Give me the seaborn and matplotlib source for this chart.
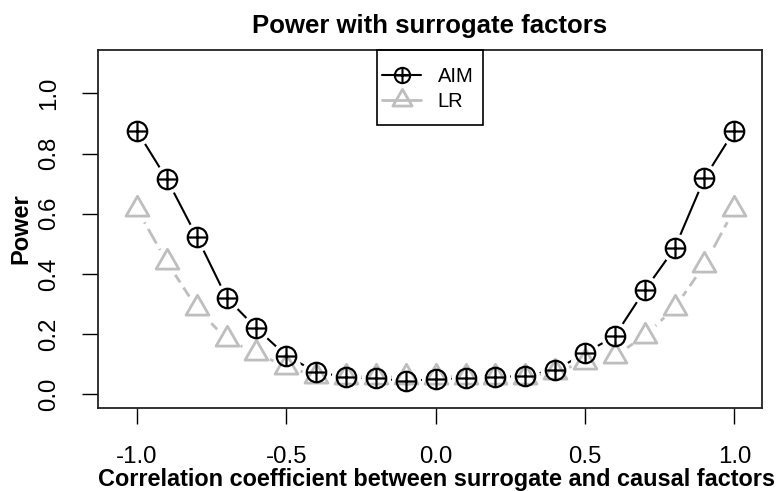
import numpy as np
import pandas as pd
import matplotlib
matplotlib.use("Agg")
import matplotlib.pyplot as plt
from matplotlib.path import Path
from matplotlib.lines import Line2D
from matplotlib.patches import Rectangle
import seaborn as sns

# ---- data ----
corr = [-1.0, -0.9, -0.8, -0.7, -0.6, -0.5, -0.4, -0.3, -0.2, -0.1, 0.0,
        0.1, 0.2, 0.3, 0.4, 0.5, 0.6, 0.7, 0.8, 0.9, 1.0]
aim_power = [0.875, 0.715, 0.524, 0.321, 0.219, 0.128, 0.074, 0.057, 0.054, 0.044, 0.051,
             0.054, 0.057, 0.061, 0.081, 0.136, 0.194, 0.346, 0.485, 0.718, 0.876]
lr_power = [0.615, 0.440, 0.287, 0.183, 0.136, 0.092, 0.060, 0.058, 0.058, 0.057, 0.058,
            0.059, 0.058, 0.058, 0.075, 0.106, 0.127, 0.194, 0.287, 0.430, 0.615]
series_names = ["AIM", "LR"]
x_ticks = [-1.0, -0.5, 0.0, 0.5, 1.0]
x_tick_labels = ["-1.0", "-0.5", "0.0", "0.5", "1.0"]
y_ticks = [0.0, 0.2, 0.4, 0.6, 0.8, 1.0]
y_tick_labels = ["0.0", "0.2", "0.4", "0.6", "0.8", "1.0"]

sns.set_style("white")
plt.rcParams["font.family"] = ["Liberation Sans", "DejaVu Sans"]
plt.rcParams["axes.unicode_minus"] = False
plt.rcParams["text.color"] = "black"
plt.rcParams["axes.labelcolor"] = "black"
plt.rcParams["xtick.color"] = "black"
plt.rcParams["ytick.color"] = "black"

fig = plt.figure(figsize=(7.77, 4.91), dpi=100)
ax = fig.add_axes([98 / 777, 1 - 408 / 491, (762 - 98) / 777, (408 - 50) / 491])

# markers
circ_plus = Path.make_compound_path(
    Path.unit_circle(),
    Path([[-1, 0], [1, 0]], [Path.MOVETO, Path.LINETO]),
    Path([[0, -1], [0, 1]], [Path.MOVETO, Path.LINETO]),
)
s3 = np.sqrt(3)
tri = Path([[-1, -1 / s3], [1, -1 / s3], [0, 2 / s3], [-1, -1 / s3]],
           [Path.MOVETO, Path.LINETO, Path.LINETO, Path.CLOSEPOLY])

black = "black"
gray = "#BEBEBE"
df = pd.DataFrame({"corr": corr, "AIM": aim_power, "LR": lr_power})

# lines (with gaps around points, like R type="b")
sns.lineplot(data=df, x="corr", y="AIM", ax=ax, color=black, lw=1.5,
             sort=False, errorbar=None, zorder=2)
sns.lineplot(data=df, x="corr", y="AIM", ax=ax, color="white", lw=0,
             marker="o", markersize=21, markeredgewidth=0,
             markerfacecolor="white", sort=False, errorbar=None, zorder=3)
sns.lineplot(data=df, x="corr", y="LR", ax=ax, color=gray, lw=2.0,
             linestyle=(0, (6, 2.2)), sort=False, errorbar=None, zorder=4)
sns.lineplot(data=df, x="corr", y="LR", ax=ax, color="white", lw=0,
             marker="o", markersize=21, markeredgewidth=0,
             markerfacecolor="white", sort=False, errorbar=None, zorder=5)
# point markers
sns.lineplot(data=df, x="corr", y="LR", ax=ax, lw=0, marker=tri, markersize=19,
             markerfacecolor="none", markeredgecolor=gray, markeredgewidth=2.0,
             sort=False, errorbar=None, zorder=6)
sns.lineplot(data=df, x="corr", y="AIM", ax=ax, lw=0, marker=circ_plus, markersize=14,
             markerfacecolor="none", markeredgecolor=black, markeredgewidth=1.6,
             sort=False, errorbar=None, zorder=7)

ax.set_xlim(-1.1306, 1.0927)
ax.set_ylim(-0.0455, 1.1439)
ax.set_xticks(x_ticks)
ax.set_xticklabels(x_tick_labels)
ax.set_yticks(y_ticks)
ax.set_yticklabels(y_tick_labels, rotation=90, va="center")
ax.tick_params(axis="both", which="major", direction="out", length=11.5, width=1.0,
               color="black", labelsize=17.3, labelcolor="black", left=True, bottom=True)
ax.tick_params(axis="x", pad=16)
ax.tick_params(axis="y", pad=16)
for sp in ax.spines.values():
    sp.set_visible(True)
    sp.set_color("#222222")
    sp.set_linewidth(1.3)
ax.grid(False)

ax.set_title("Power with surrogate factors", fontsize=18.5, fontweight="bold", pad=12)
ax.set_xlabel("Correlation coefficient between surrogate and causal factors",
              fontsize=16.9, fontweight="bold")
ax.xaxis.set_label_coords((437 - 98) / 664, (408 - 468) / 358)
ax.set_ylabel("Power", fontsize=17, fontweight="bold", labelpad=4)

handles = [
    Line2D([], [], color=black, lw=1.5, marker=circ_plus, markersize=11,
           markerfacecolor="none", markeredgecolor=black, markeredgewidth=1.5),
    Line2D([], [], color=gray, lw=2.0, marker=tri, markersize=16,
           markerfacecolor="none", markeredgecolor=gray, markeredgewidth=2.0),
]
leg = ax.legend(handles, series_names, loc="upper center",
                bbox_to_anchor=((428 - 98) / 664, (408 - 67) / 358),
                borderaxespad=0, fontsize=14.5, handlelength=1.9, handletextpad=0.85,
                labelspacing=0.3, borderpad=0.0, frameon=False)
# legend box (R-style: tall, tight left/right padding)
fig.add_artist(Rectangle((377 / 777, 1 - 125 / 491), 106 / 777, 75 / 491,
                         transform=fig.transFigure, fill=False, ec="black", lw=1.2,
                         zorder=10))

fig.savefig("out.png", dpi=100)
